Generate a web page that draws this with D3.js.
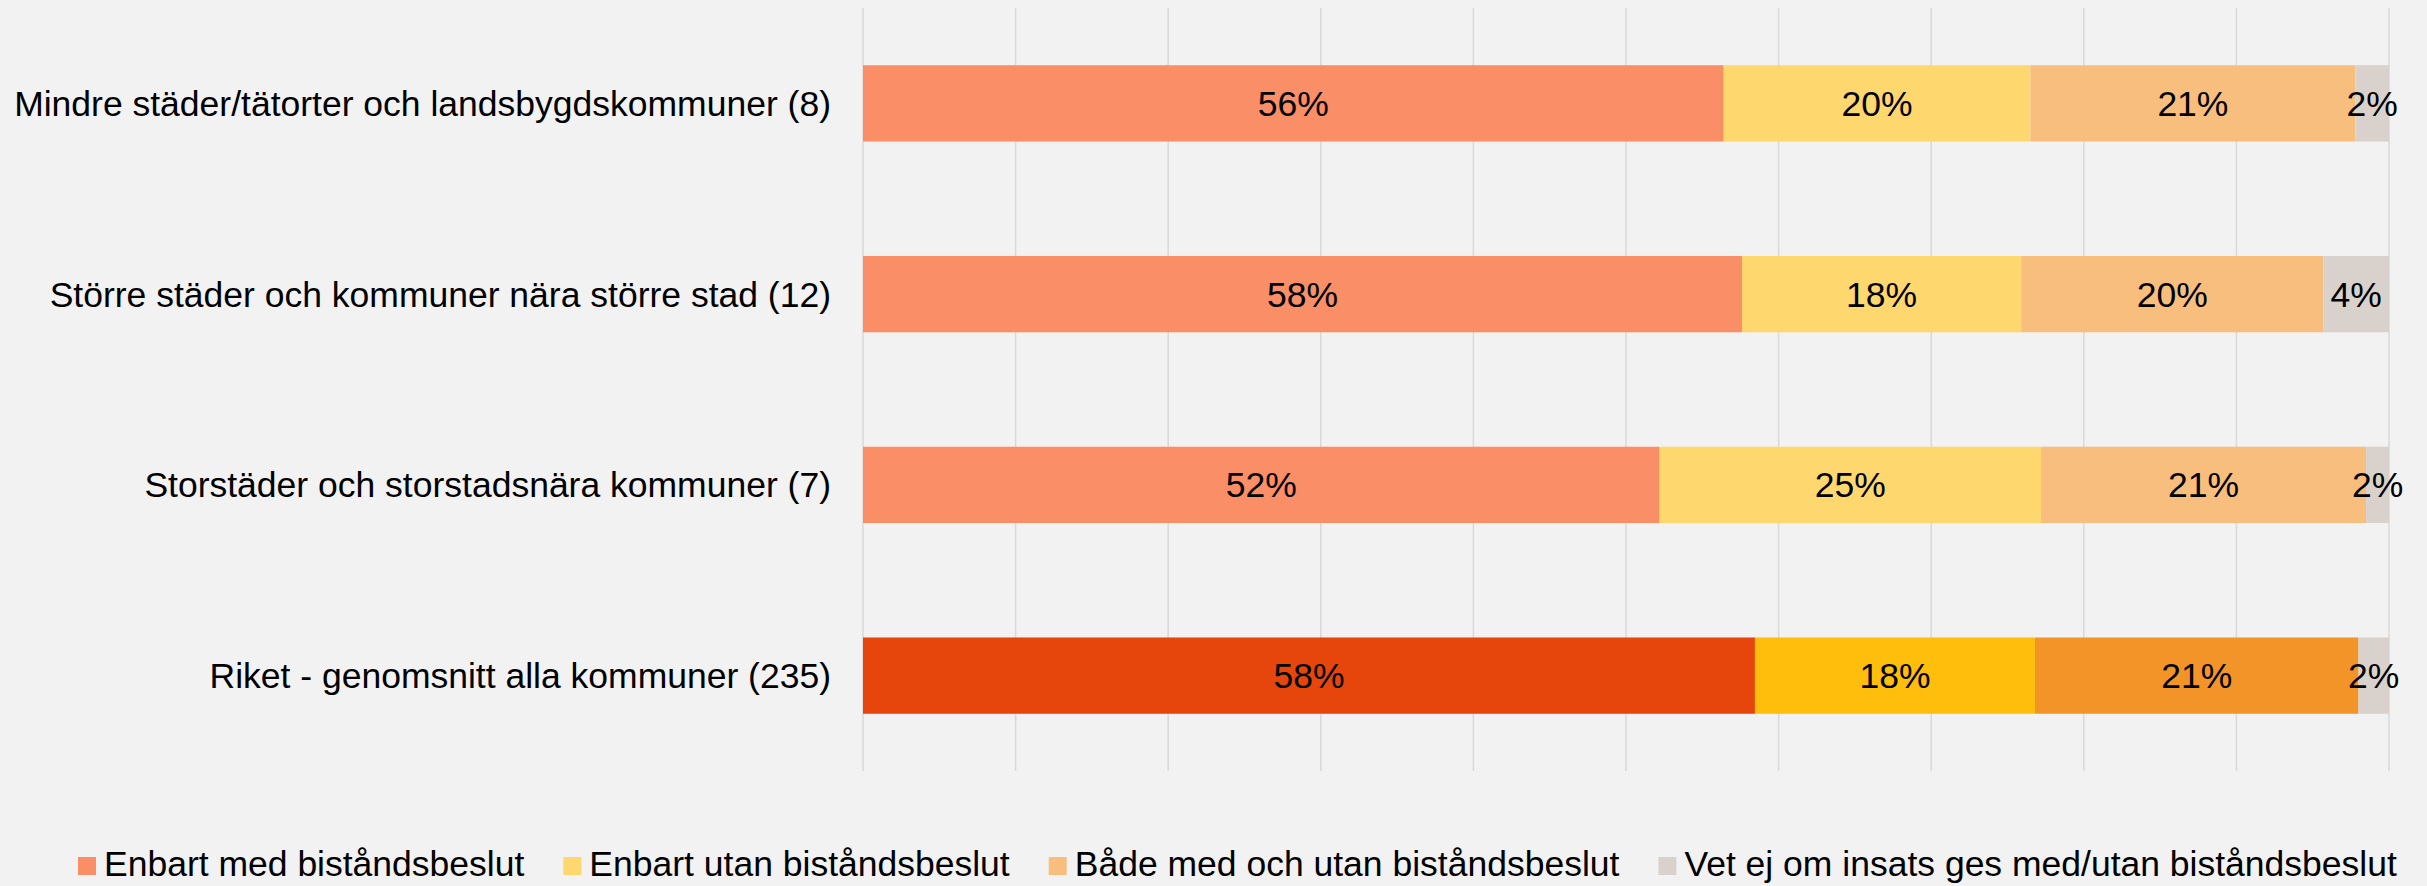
<!DOCTYPE html>
<html>
<head>
<meta charset="utf-8">
<script src="https://cdn.jsdelivr.net/npm/d3@7"></script>
<style>
  html, body { margin: 0; padding: 0; background: #f2f2f2; }
  svg { display: block; font-family: "Liberation Sans", Arial, sans-serif; }
</style>
</head>
<body>
<div id="chart"></div>
<script>
var width = 2427, height = 886;

var categories = [
  "Mindre städer/tätorter och landsbygdskommuner (8)",
  "Större städer och kommuner nära större stad (12)",
  "Storstäder och storstadsnära kommuner (7)",
  "Riket - genomsnitt alla kommuner (235)"
];

var series = [
  "Enbart med biståndsbeslut",
  "Enbart utan biståndsbeslut",
  "Både med och utan biståndsbeslut",
  "Vet ej om insats ges med/utan biståndsbeslut"
];

// percent per category, in series order
var enbartMed   = [56.4, 57.6, 52.2, 58.45];
var enbartUtan  = [20.1, 18.3, 25.0, 18.35];
var badeMedUtan = [21.3, 19.8, 21.3, 21.2];
var vetEj       = [2.2, 4.3, 1.5, 2.0];

var gridTicks = [0, 10, 20, 30, 40, 50, 60, 70, 80, 90, 100];

var colors = ["#f98e67", "#fed76e", "#f7be7d", "#d9d2cc"];
var colorsRiket = ["#e6460b", "#ffbe0c", "#f29428", "#d9d2cc"];

var margin = {top: 8, right: 38, bottom: 115, left: 863};
var plotW = width - margin.left - margin.right,
    plotH = height - margin.top - margin.bottom;

var svg = d3.select("#chart")
    .append("svg")
    .attr("width", width)
    .attr("height", height);

svg.append("rect")
    .attr("width", width)
    .attr("height", height)
    .attr("fill", "#f2f2f2");

var g = svg.append("g")
    .attr("transform", "translate(" + margin.left + "," + margin.top + ")");

var x = d3.scaleLinear().domain([0, 100]).range([0, plotW]);
var y = d3.scaleBand().domain(categories).range([0, plotH]).paddingInner(0.6).paddingOuter(0.3);

// gridlines
g.selectAll(".grid")
    .data(gridTicks)
    .enter()
    .append("line")
    .attr("x1", function(d) { return x(d); })
    .attr("x2", function(d) { return x(d); })
    .attr("y1", 0)
    .attr("y2", plotH)
    .attr("stroke", "#d9d9d9")
    .attr("stroke-width", 1.5);

var rows = categories.map(function(c, i) {
    return {cat: c, vals: [enbartMed[i], enbartUtan[i], badeMedUtan[i], vetEj[i]], riket: i === 3};
});

var fontSize = 35.5;

rows.forEach(function(r) {
    var x0 = 0;
    r.vals.forEach(function(v, j) {
        var col = r.riket ? colorsRiket[j] : colors[j];
        g.append("rect")
            .attr("x", x(x0))
            .attr("y", y(r.cat))
            .attr("width", x(x0 + v) - x(x0))
            .attr("height", y.bandwidth())
            .attr("fill", col);
        x0 += v;
    });
});

// data labels drawn after bars so they sit on top
rows.forEach(function(r) {
    var x0 = 0;
    r.vals.forEach(function(v, j) {
        g.append("text")
            .attr("x", x(x0 + v / 2))
            .attr("y", y(r.cat) + y.bandwidth() / 2)
            .attr("dy", "0.35em")
            .attr("text-anchor", "middle")
            .attr("font-size", fontSize)
            .attr("fill", "#000")
            .text(Math.round(v) + "%");
        x0 += v;
    });
});

// category labels
g.selectAll(".cat")
    .data(categories)
    .enter()
    .append("text")
    .attr("x", -32)
    .attr("y", function(d) { return y(d) + y.bandwidth() / 2; })
    .attr("dy", "0.35em")
    .attr("text-anchor", "end")
    .attr("font-size", fontSize)
    .attr("fill", "#000")
    .text(function(d) { return d; });

// legend
var legend = svg.append("g")
    .attr("transform", "translate(78," + 864 + ")");

var lx = 0;
series.forEach(function(s, i) {
    legend.append("rect")
        .attr("x", lx)
        .attr("y", -7)
        .attr("width", 18)
        .attr("height", 18)
        .attr("fill", colors[i]);
    var t = legend.append("text")
        .attr("x", lx + 26)
        .attr("y", 0)
        .attr("dy", "0.35em")
        .attr("font-size", fontSize)
        .attr("fill", "#000")
        .text(s);
    lx += 26 + t.node().getComputedTextLength() + 39;
});
</script>
</body>
</html>
